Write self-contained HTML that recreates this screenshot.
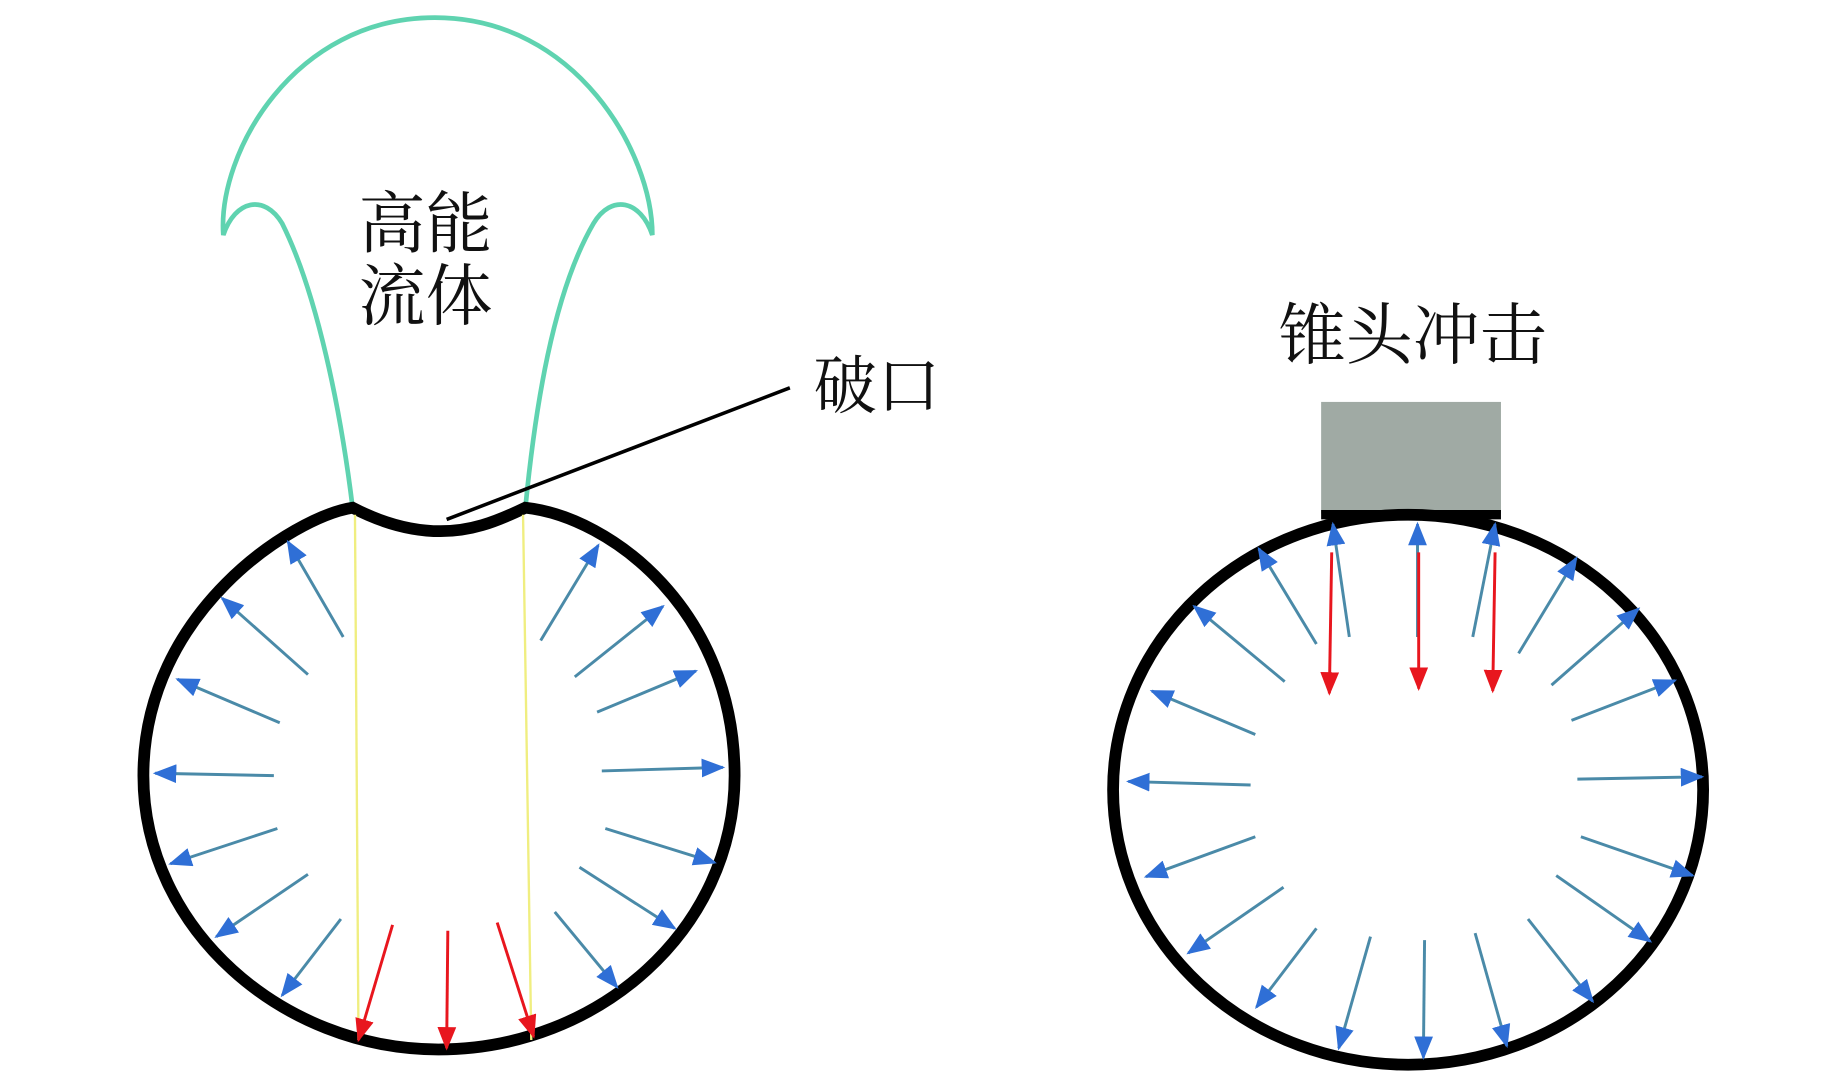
<!DOCTYPE html>
<html><head><meta charset="utf-8"><style>
html,body{margin:0;padding:0;background:#fff;}
svg{display:block;}
text{font-family:"Liberation Serif","Noto Serif CJK SC","Noto Sans CJK SC",serif;fill:#111;}
</style></head><body>
<svg width="1843" height="1080" viewBox="0 0 1568 919" preserveAspectRatio="none" xmlns="http://www.w3.org/2000/svg">
<defs>
<marker id="b" markerWidth="22" markerHeight="16" refX="18" refY="8" orient="auto" markerUnits="userSpaceOnUse"><path d="M0,0 L20,8 L0,16 z" fill="#2f6fd6"/></marker>
<marker id="r" markerWidth="22" markerHeight="16" refX="18" refY="8" orient="auto" markerUnits="userSpaceOnUse"><path d="M0,0 L20,8 L0,16 z" fill="#e8161e"/></marker>
</defs>
<!-- fluid -->
<path d="M300,432 C290,350 270,250 240,190 C225,165 200,170 190,200 C185,130 250,15 370,15 C490,15 555,130 555,200 C545,170 520,165 505,190 C470,250 455,350 447,432" fill="none" stroke="#5fd3b0" stroke-width="4"/>
<!-- left circle with notch -->
<path d="M300,432 C250,440 122,520 122,660 C122,790 240,893 373,893 C510,893 625,790 625,660 C625,520 520,440 447,432 C420,445 400,452 375,452 C350,452 325,445 300,432 Z" fill="none" stroke="#000" stroke-width="10"/>
<line x1="302" y1="438" x2="305" y2="885" stroke="#f0ee80" stroke-width="2"/>
<line x1="445" y1="438" x2="452" y2="885" stroke="#f0ee80" stroke-width="2"/>
<line x1="380" y1="442" x2="672" y2="330" stroke="#000" stroke-width="3"/>
<text x="305" y="210" font-size="57">高能</text>
<text x="305" y="272" font-size="57">流体</text>
<text x="692" y="347" font-size="54">破口</text>
<g stroke="#4a8aa8" stroke-width="2.5" fill="none" marker-end="url(#b)">
<line x1="292" y1="542" x2="245" y2="461"/>
<line x1="262" y1="574" x2="189" y2="509"/>
<line x1="238" y1="615" x2="151" y2="578"/>
<line x1="233" y1="660" x2="132" y2="658"/>
<line x1="236" y1="705" x2="145" y2="735"/>
<line x1="262" y1="744" x2="184" y2="797"/>
<line x1="290" y1="782" x2="240" y2="847"/>
<line x1="460" y1="545" x2="509" y2="464"/>
<line x1="489" y1="576" x2="564" y2="516"/>
<line x1="508" y1="606" x2="592" y2="571"/>
<line x1="512" y1="656" x2="615" y2="653"/>
<line x1="515" y1="705" x2="608" y2="734"/>
<line x1="493" y1="738" x2="574" y2="790"/>
<line x1="472" y1="776" x2="525" y2="840"/>
</g>
<g stroke="#e8161e" stroke-width="2.5" marker-end="url(#r)">
<line x1="334" y1="787" x2="305" y2="885"/>
<line x1="381" y1="792" x2="380" y2="892"/>
<line x1="423" y1="785" x2="454" y2="882"/>
</g>
<!-- right -->
<text x="1088" y="305" font-size="57">锥头冲击</text>
<rect x="1124" y="342" width="153" height="95" fill="#a0aaa4"/>
<ellipse cx="1198" cy="672" rx="251" ry="234" fill="none" stroke="#000" stroke-width="10"/>
<line x1="1124" y1="438" x2="1277" y2="438" stroke="#000" stroke-width="8"/>
<g stroke="#4a8aa8" stroke-width="2.5" fill="none" marker-end="url(#b)">
<line x1="1148" y1="542" x2="1134" y2="446"/>
<line x1="1206" y1="542" x2="1206" y2="446"/>
<line x1="1253" y1="542" x2="1272" y2="446"/>
<line x1="1120" y1="548" x2="1071" y2="467"/>
<line x1="1093" y1="580" x2="1016" y2="516"/>
<line x1="1068" y1="625" x2="980" y2="588"/>
<line x1="1064" y1="668" x2="960" y2="665"/>
<line x1="1068" y1="712" x2="975" y2="746"/>
<line x1="1092" y1="755" x2="1011" y2="811"/>
<line x1="1120" y1="790" x2="1069" y2="857"/>
<line x1="1166" y1="797" x2="1139" y2="892"/>
<line x1="1212" y1="800" x2="1211" y2="900"/>
<line x1="1255" y1="794" x2="1282" y2="890"/>
<line x1="1300" y1="782" x2="1355" y2="852"/>
<line x1="1324" y1="745" x2="1404" y2="801"/>
<line x1="1345" y1="712" x2="1440" y2="745"/>
<line x1="1342" y1="663" x2="1448" y2="661"/>
<line x1="1337" y1="613" x2="1425" y2="579"/>
<line x1="1320" y1="583" x2="1394" y2="518"/>
<line x1="1292" y1="556" x2="1341" y2="475"/>
</g>
<g stroke="#e8161e" stroke-width="2.5" marker-end="url(#r)">
<line x1="1133" y1="470" x2="1131" y2="590"/>
<line x1="1207" y1="470" x2="1207" y2="586"/>
<line x1="1272" y1="470" x2="1270" y2="588"/>
</g>
</svg>
</body></html>
